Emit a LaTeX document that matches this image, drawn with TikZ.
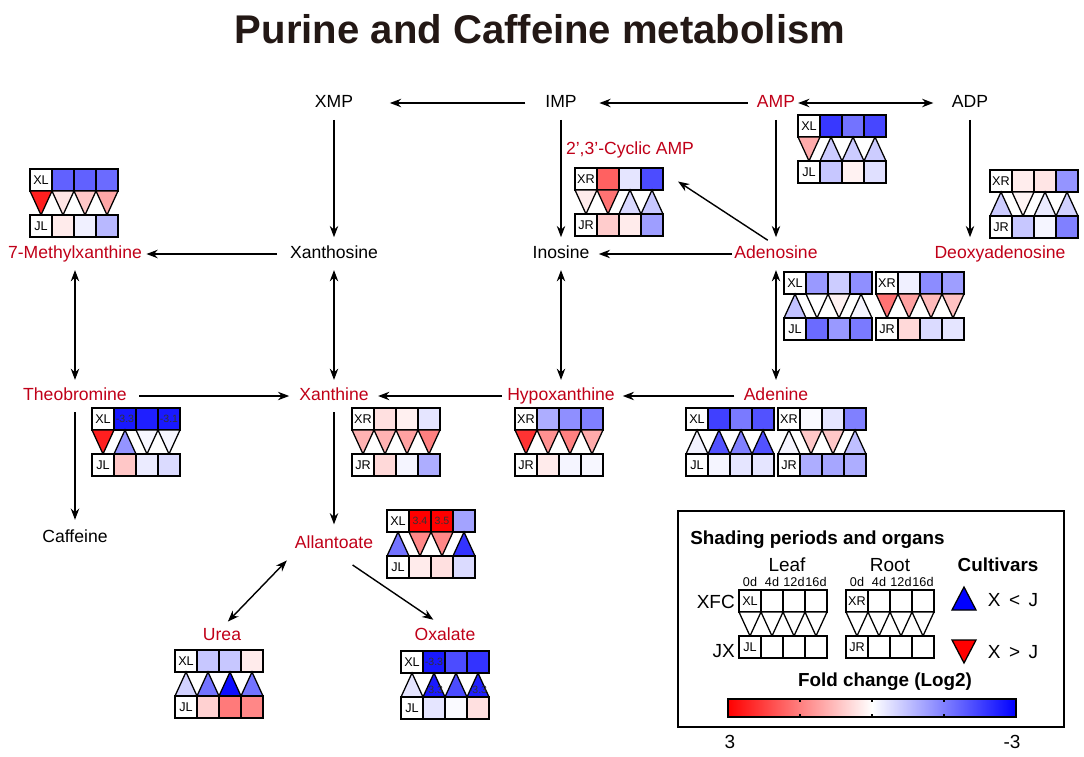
\documentclass[tikz,border=0pt]{standalone}
\usepackage{fontspec}
\setmainfont{Liberation Sans}
\usetikzlibrary{arrows.meta,positioning}
\definecolor{metred}{HTML}{C00018}
\definecolor{ttl}{HTML}{231815}
\tikzset{
  met/.style={font=\fontsize{12.5}{14}\selectfont, inner sep=0pt, text height=9pt, text depth=2.5pt},
  hit/.style={met, text=metred},
  flow/.style={-{Stealth[length=8pt,width=6pt]}, line width=1pt},
  bflow/.style={{Stealth[length=8pt,width=6pt]}-{Stealth[length=8pt,width=6pt]}, line width=1pt},
  hmcell/.style={draw=black, line width=0.9pt},
  hmlab/.style={font=\fontsize{9}{10}\selectfont, inner sep=0pt},
  hmval/.style={font=\fontsize{7.5}{8}\selectfont, inner sep=0pt, text=black!80},
  lgtxt/.style={font=\fontsize{13.5}{15}\selectfont, inner sep=0pt},
  lgbold/.style={font=\bfseries\fontsize{13.4}{15}\selectfont, inner sep=0pt},
  lgday/.style={font=\fontsize{9}{10}\selectfont, inner sep=0pt},
}
% one row of cells: name, x, y, label, {colour/value,...}
\newcommand{\hmrow}[5]{%
  \draw[hmcell, fill=white] (#2,#3) rectangle ++(22,22);
  \node[hmlab] (#1-0) at (#2+11,#3+11) {#4};
  \foreach \clr/\txt [count=\pos] in {#5}{
    \draw[hmcell, fill=\clr] (#2+22*\pos,#3) rectangle ++(22,22);
    \node[hmval] (#1-\pos) at (#2+22*\pos+11,#3+11) {\txt};
  }
}
% full glyph: name, x, y, top label, top cells, triangles, bottom label, bottom cells
\newcommand{\hmglyph}[8]{%
  \hmrow{#1t}{#2}{#3}{#4}{#5}
  \foreach \dir/\clr/\txt [count=\pos from 0] in {#6}{
    \if\dir u
      \draw[hmcell, fill=\clr] (#2+22*\pos,#3+46) -- ++(22,0) -- ++(-11,-24) -- cycle;
      \node[hmval] (#1g\pos) at (#2+22*\pos+11,#3+39) {\txt};
    \else
      \draw[hmcell, fill=\clr] (#2+22*\pos,#3+22) -- ++(22,0) -- ++(-11,24) -- cycle;
      \node[hmval] (#1g\pos) at (#2+22*\pos+11,#3+29) {\txt};
    \fi
  }
  \hmrow{#1b}{#2}{#3+46}{#7}{#8}
}

\begin{document}
\begin{tikzpicture}[x=0.025cm,y=-0.025cm]
\useasboundingbox (0,0) rectangle (1084,756);

\node[font=\bfseries\fontsize{28.5}{32}\selectfont, text=ttl] (title) at (540,29) {Purine and Caffeine metabolism};

% metabolites
\node[met] (XMP) at (334,103) {XMP};
\node[met] (IMP) at (561,103) {IMP};
\node[hit] (AMP) at (776,103) {AMP};
\node[met] (ADP) at (970,103) {ADP};
\node[hit] (cAMP) at (630,150) {2',3'-Cyclic AMP};
\node[hit] (MX) at (75,254) {7-Methylxanthine};
\node[met] (XAO) at (334,254) {Xanthosine};
\node[met] (INO) at (561,254) {Inosine};
\node[hit] (ADO) at (776,254) {Adenosine};
\node[hit] (DADO) at (1000,254) {Deoxyadenosine};
\node[hit] (TB) at (75,396) {Theobromine};
\node[hit] (XAN) at (334,396) {Xanthine};
\node[hit] (HX) at (561,396) {Hypoxanthine};
\node[hit] (ADE) at (776,396) {Adenine};
\node[met] (CAF) at (75,538) {Caffeine};
\node[hit] (ALL) at (334,544) {Allantoate};
\node[hit] (URE) at (222,636) {Urea};
\node[hit] (OXA) at (445,636) {Oxalate};

% reactions
\draw[flow, shorten <=14pt, shorten >=26pt] (IMP) -- (XMP);
\draw[flow, shorten <=6.5pt, shorten >=16pt] (AMP) -- (IMP);
\draw[bflow, shorten <=2pt, shorten >=13pt] (AMP) -- (ADP);
\draw[flow, shorten <=6pt, shorten >=6pt] (XMP) -- (XAO);
\draw[flow, shorten <=6pt, shorten >=6pt] (IMP) -- (INO);
\draw[flow, shorten <=6pt, shorten >=6pt] (AMP) -- (ADO);
\draw[flow, shorten <=6pt, shorten >=6pt] (ADP) -- (ADP |- DADO.north);
\draw[flow, shorten <=7pt, shorten >=30pt] (ADO.north) -- (cAMP);
\draw[flow, shorten <=9pt, shorten >=3pt] (XAO) -- (MX);
\draw[flow, shorten <=1.5pt, shorten >=6.5pt] (ADO) -- (INO);
\draw[bflow, shorten <=5.5pt, shorten >=5.5pt] (MX) -- (TB);
\draw[bflow, shorten <=5.5pt, shorten >=5.5pt] (XAO) -- (XAN);
\draw[bflow, shorten <=5.5pt, shorten >=5.5pt] (INO) -- (HX);
\draw[bflow, shorten <=5.5pt, shorten >=5.5pt] (ADO) -- (ADE);
\draw[flow, shorten <=8.5pt, shorten >=7pt] (TB) -- (XAN);
\draw[flow, shorten <=3.5pt, shorten >=6.5pt] (HX) -- (XAN);
\draw[flow, shorten <=6.5pt, shorten >=5.5pt] (ADE) -- (HX);
\draw[flow, shorten <=5.5pt, shorten >=7pt] (TB) -- (CAF);
\draw[flow, shorten <=5.5pt, shorten >=8pt] (XAN) -- (ALL);
\draw[bflow, shorten <=8pt, shorten >=6pt] (ALL.south west) -- (URE.north);
\draw[flow, shorten <=16pt, shorten >=10pt] (ALL.south) -- (OXA.north);

% fold change glyphs
\hmglyph{mx}{30}{169}{XL}{blue!62/,blue!62/,blue!58/}{d/red!88/,d/red!10/,d/red!22/,d/red!35/}{JL}{red!8/,blue!6/,blue!28/}
\hmglyph{ca}{575}{168}{XR}{red!62/,blue!10/,blue!70/}{d/red!8/,d/red!55/,u/blue!15/,u/blue!22/}{JR}{red!20/,red!8/,blue!38/}
\hmglyph{am}{798}{115}{XL}{blue!78/,blue!55/,blue!72/}{d/red!33/,u/blue!20/,u/blue!20/,u/blue!20/}{JL}{blue!22/,red!5/,blue!12/}
\hmglyph{da}{990}{170}{XR}{red!7/,red!10/,blue!42/}{u/blue!20/,d/red!4/,u/blue!8/,u/blue!18/}{JR}{blue!22/,blue!4/,blue!50/}
\hmglyph{adl}{784}{272}{XL}{blue!40/,blue!20/,blue!44/}{u/blue!24/,d/white/,d/red!5/,u/blue!4/}{JL}{blue!58/,blue!40/,blue!52/}
\hmglyph{adr}{876}{272}{XR}{blue!6/,blue!45/,blue!38/}{d/red!55/,d/red!37/,d/red!27/,d/red!24/}{JR}{red!15/,blue!14/,blue!10/}
\hmglyph{tb}{92}{408}{XL}{blue!90/-3.3,blue!88/,blue!90/-3.1}{d/red!88/,u/blue!42/,d/blue!3/,d/blue!3/}{JL}{red!22/,blue!8/,blue!14/}
\hmglyph{xa}{352}{408}{XR}{red!12/,red!6/,blue!10/}{d/red!30/,d/red!30/,d/red!37/,d/red!50/}{JR}{red!15/,blue!4/,blue!32/}
\hmglyph{hx}{515}{408}{XR}{blue!32/,blue!44/,blue!50/}{d/red!80/,d/red!43/,d/red!50/,d/red!33/}{JR}{red!8/,blue!4/,blue!3/}
\hmglyph{anl}{686}{408}{XL}{blue!75/,blue!52/,blue!68/}{u/blue!5/,u/blue!68/,u/blue!50/,u/blue!68/}{JL}{blue!4/,blue!10/,blue!10/}
\hmglyph{anr}{778}{408}{XR}{blue!2/,blue!10/,blue!50/}{u/blue!4/,d/red!22/,d/red!22/,u/blue!25/}{JR}{blue!32/,blue!35/,blue!32/}
\hmglyph{al}{387}{510}{XL}{red!100/3.4,red!100/3.5,blue!36/}{u/blue!55/,d/red!47/,d/red!47/,u/blue!80/}{JL}{red!8/,red!12/,blue!14/}
\hmglyph{ur}{175}{650}{XL}{blue!22/,blue!22/,red!8/}{u/blue!18/,u/blue!55/,u/blue!95/,u/blue!55/}{JL}{red!18/,red!52/,red!47/}
\hmglyph{ox}{401}{651}{XL}{blue!90/-3.3,blue!70/,blue!80/}{u/blue!10/,u/blue!90/-3.3,u/blue!70/,u/blue!88/-3.3}{JL}{blue!10/,blue!2/,red!12/}

% legend
\draw[line width=1pt] (678,511) rectangle (1064,727);
\node[lgbold, anchor=west] (lgT) at (690,540) {Shading periods and organs};
\node[lgtxt] (lgLeaf) at (787,565) {Leaf};
\node[lgtxt] (lgRoot) at (890,565) {Root};
\node[lgbold] (lgCult) at (998,565) {Cultivars};
\foreach \day [count=\pos from 0] in {0d,4d,12d,16d}{
  \node[lgday] (dayL\pos) at (750+22*\pos,582) {\day};
  \node[lgday] (dayR\pos) at (857+22*\pos,582) {\day};
}
\hmglyph{lgl}{739}{590}{XL}{white/,white/,white/}{d/white/,d/white/,d/white/,d/white/}{JL}{white/,white/,white/}
\hmglyph{lgr}{846}{590}{XR}{white/,white/,white/}{d/white/,d/white/,d/white/,d/white/}{JR}{white/,white/,white/}
\node[lgtxt, anchor=east] (lgX) at (735,602) {XFC};
\node[lgtxt, anchor=east] (lgJ) at (735,651) {JX};
\draw[hmcell, fill=blue] (952,610) -- (976,610) -- (964,587) -- cycle;
\draw[hmcell, fill=red] (952,640) -- (976,640) -- (964,663) -- cycle;
\node[lgtxt] (lgLt) at (1013,600) {X \,<\, J};
\node[lgtxt] (lgGt) at (1013,652) {X \,>\, J};
\node[lgbold] (lgFC) at (885,682) {Fold change (Log2)};
\shade[left color=red, right color=blue, middle color=white] (728,699) rectangle (1016,717);
\draw[line width=1pt] (728,699) rectangle (1016,717);
\foreach \x in {800,872,944}
  \draw[line width=1pt] (\x,699) -- ++(0,3) (\x,717) -- ++(0,-3);
\node[lgtxt] (lgHi) at (730,742) {3};
\node[lgtxt] (lgLo) at (1012,742) {-3};

\end{tikzpicture}
\end{document}
